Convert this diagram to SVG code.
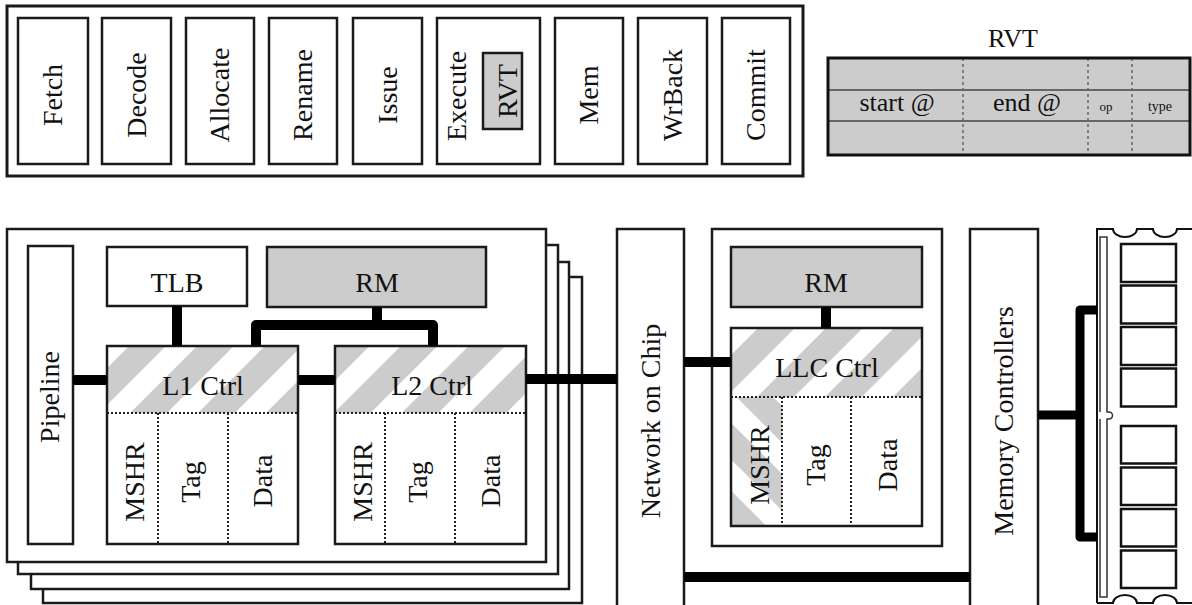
<svg xmlns="http://www.w3.org/2000/svg" width="1192" height="605" viewBox="0 0 1192 605">
<style>
.box{fill:#fff;stroke:#1a1a1a;stroke-width:2.5}
.gbox{fill:#cccccc;stroke:#1a1a1a;stroke-width:2.5}
.nf{fill:none;stroke:#1a1a1a;stroke-width:2.5}
.t{font-family:"Liberation Serif","Times New Roman",serif;font-size:28px;fill:#111;text-anchor:middle}
.dot{stroke:#222;stroke-width:2;stroke-dasharray:2 2;fill:none}
.dash{stroke:#666;stroke-width:1.5;stroke-dasharray:3 3;fill:none}
.con{fill:none;stroke:#000;stroke-width:10;stroke-linejoin:round}
.chip{fill:#fff;stroke:#111;stroke-width:2.5}
</style>
<defs>
<pattern id="hatch" patternUnits="userSpaceOnUse" width="48" height="48" patternTransform="rotate(45)">
<rect x="0" y="0" width="48" height="48" fill="#fff"/>
<rect x="0" y="0" width="26" height="48" fill="#cccccc"/>
</pattern>
<pattern id="hatch2" patternUnits="userSpaceOnUse" width="48" height="48" patternTransform="rotate(-45)">
<rect x="0" y="0" width="48" height="48" fill="#fff"/>
<rect x="0" y="0" width="26" height="48" fill="#cccccc"/>
</pattern>
</defs>

<g id="pipeline-stages">
<rect x="7" y="6" width="796" height="170" fill="#fff" stroke="#1a1a1a" stroke-width="3"/>
<g id="fetch"><rect class="box" x="18" y="18" width="70" height="146"/><text class="t" transform="translate(62,95) rotate(-90)">Fetch</text></g>
<g id="decode"><rect class="box" x="102" y="18" width="69" height="146"/><text class="t" transform="translate(146,95) rotate(-90)">Decode</text></g>
<g id="allocate"><rect class="box" x="186" y="18" width="68" height="146"/><text class="t" transform="translate(229,95) rotate(-90)">Allocate</text></g>
<g id="rename"><rect class="box" x="269" y="18" width="68" height="146"/><text class="t" transform="translate(312,95) rotate(-90)">Rename</text></g>
<g id="issue"><rect class="box" x="353" y="18" width="69" height="146"/><text class="t" transform="translate(397,95) rotate(-90)">Issue</text></g>
<g id="execute"><rect class="box" x="437" y="18" width="103" height="146"/><text class="t" transform="translate(466,96) rotate(-90)">Execute</text>
<rect class="gbox" x="483" y="53" width="39" height="76"/><text class="t" transform="translate(517,91) rotate(-90)">RVT</text></g>
<g id="mem"><rect class="box" x="555" y="18" width="68" height="146"/><text class="t" transform="translate(598,95) rotate(-90)">Mem</text></g>
<g id="wrback"><rect class="box" x="638" y="18" width="69" height="146"/><text class="t" transform="translate(682,95) rotate(-90)">WrBack</text></g>
<g id="commit"><rect class="box" x="722" y="18" width="68" height="146"/><text class="t" transform="translate(765,95) rotate(-90)">Commit</text></g>
</g>

<g id="rvt-table">
<text class="t" x="1013" y="47" style="font-size:26px">RVT</text>
<rect x="828" y="58" width="362" height="97" fill="#cccccc"/>
<line x1="828" y1="90" x2="1190" y2="90" stroke="#444" stroke-width="1.5"/>
<line x1="828" y1="121" x2="1190" y2="121" stroke="#444" stroke-width="1.5"/>
<line class="dash" x1="963" y1="58" x2="963" y2="155"/>
<line class="dash" x1="1088" y1="58" x2="1088" y2="155"/>
<line class="dash" x1="1132" y1="58" x2="1132" y2="155"/>
<rect x="828" y="58" width="362" height="97" fill="none" stroke="#111" stroke-width="3"/>
<text class="t" x="897" y="111" style="font-size:26px">start @</text>
<text class="t" x="1027" y="111" style="font-size:26px">end @</text>
<text class="t" x="1106" y="111" style="font-size:13px">op</text>
<text class="t" x="1160" y="111" style="font-size:14px">type</text>
</g>

<g id="core">
<rect class="box" x="43" y="277" width="539" height="326"/>
<rect class="box" x="31" y="262" width="538" height="327"/>
<rect class="box" x="18" y="245" width="540" height="329"/>
<rect class="box" x="7" y="229" width="539" height="333"/>
</g>

<g id="pipeline"><rect class="box" x="28" y="246" width="45" height="298"/><text class="t" transform="translate(59,397) rotate(-90)">Pipeline</text></g>
<g id="tlb"><rect class="box" x="107" y="247" width="140" height="59"/><text class="t" x="177" y="292">TLB</text></g>
<g id="rm-core"><rect class="gbox" x="267" y="247" width="219" height="60"/><text class="t" x="377" y="292">RM</text></g>

<g id="l1">
<rect x="107" y="346" width="191" height="198" fill="#fff"/>
<rect x="107" y="346" width="191" height="67" fill="url(#hatch)"/>
<line class="dot" x1="107" y1="413" x2="298" y2="413"/>
<line class="dot" x1="158" y1="413" x2="158" y2="544"/>
<line class="dot" x1="228" y1="413" x2="228" y2="544"/>
<rect class="nf" x="107" y="346" width="191" height="198"/>
<text class="t" x="203" y="395">L1 Ctrl</text>
<text class="t" transform="translate(144,482) rotate(-90)">MSHR</text>
<text class="t" transform="translate(200,482) rotate(-90)">Tag</text>
<text class="t" transform="translate(272,481) rotate(-90)">Data</text>
</g>

<g id="l2">
<rect x="335" y="346" width="191" height="198" fill="#fff"/>
<rect x="335" y="346" width="191" height="67" fill="url(#hatch)"/>
<line class="dot" x1="335" y1="413" x2="526" y2="413"/>
<line class="dot" x1="385" y1="413" x2="385" y2="544"/>
<line class="dot" x1="455" y1="413" x2="455" y2="544"/>
<rect class="nf" x="335" y="346" width="191" height="198"/>
<text class="t" x="432" y="395">L2 Ctrl</text>
<text class="t" transform="translate(372,482) rotate(-90)">MSHR</text>
<text class="t" transform="translate(427,482) rotate(-90)">Tag</text>
<text class="t" transform="translate(500,481) rotate(-90)">Data</text>
</g>

<g id="noc"><rect class="box" x="617" y="229" width="67" height="380"/><text class="t" transform="translate(660,421) rotate(-90)">Network on Chip</text></g>

<g id="llc">
<rect class="box" x="712" y="229" width="230" height="317"/>
<rect class="gbox" x="731" y="247" width="191" height="60"/>
<text class="t" x="826" y="292">RM</text>
<rect x="731" y="328" width="191" height="198" fill="#fff"/>
<rect x="731" y="328" width="191" height="69" fill="url(#hatch)"/>
<rect x="731" y="397" width="51" height="129" fill="url(#hatch2)"/>
<line class="dot" x1="731" y1="397" x2="922" y2="397"/>
<line class="dot" x1="782" y1="397" x2="782" y2="526"/>
<line class="dot" x1="851" y1="397" x2="851" y2="526"/>
<rect class="nf" x="731" y="328" width="191" height="198"/>
<text class="t" x="827" y="377">LLC Ctrl</text>
<text class="t" transform="translate(769,465) rotate(-90)">MSHR</text>
<text class="t" transform="translate(825,465) rotate(-90)">Tag</text>
<text class="t" transform="translate(897,465) rotate(-90)">Data</text>
</g>

<g id="memory-controllers"><rect class="box" x="970" y="229" width="68" height="380"/><text class="t" transform="translate(1013,421) rotate(-90)">Memory Controllers</text></g>

<g id="dimm">
<path d="M1097,603 V229 H1113 A12,8 0 0 0 1137,229 H1153 A12,8 0 0 0 1177,229 H1196" fill="none" stroke="#111" stroke-width="2"/>
<path d="M1097,603 H1113 A12,8 0 0 1 1137,603 H1153 A12,8 0 0 1 1177,603 H1196" fill="none" stroke="#111" stroke-width="2"/>
<path d="M1100,412 V237 H1107 V412 H1109 A3.5,3.5 0 0 1 1109,419 H1107 V597 H1100 V419" fill="#fff" stroke="#333" stroke-width="1.5"/>
<rect class="chip" x="1121" y="244" width="55" height="38"/>
<rect class="chip" x="1121" y="285.5" width="55" height="38"/>
<rect class="chip" x="1121" y="327" width="55" height="38"/>
<rect class="chip" x="1121" y="368.5" width="55" height="38"/>
<rect class="chip" x="1121" y="426" width="55" height="37.5"/>
<rect class="chip" x="1121" y="467.5" width="55" height="37.5"/>
<rect class="chip" x="1121" y="509" width="55" height="37.5"/>
<rect class="chip" x="1121" y="550.5" width="55" height="37.5"/>
</g>

<g id="connectors">
<path class="con" d="M73,380 H107"/>
<path class="con" d="M177,306 V346"/>
<path class="con" d="M256,346 V325 H433 V346"/>
<path class="con" d="M377,307 V325"/>
<path class="con" d="M298,380 H335"/>
<path class="con" d="M526,379 H617"/>
<path class="con" d="M684,362 H731"/>
<path class="con" d="M826,307 V328"/>
<path class="con" d="M684,577 H970"/>
<path class="con" d="M1038,415 H1080" style="stroke-width:9"/>
<path class="con" d="M1097,310 H1080 V537 H1097" style="stroke-width:9"/>
</g>
</svg>
